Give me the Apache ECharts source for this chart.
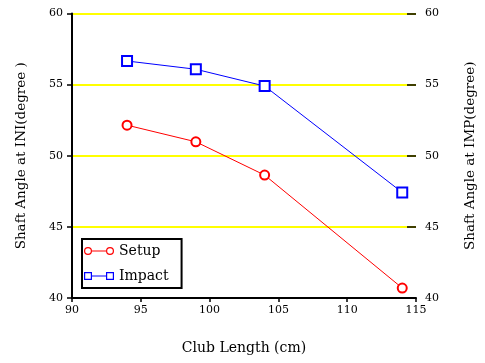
<!DOCTYPE html>
<html><head><meta charset="utf-8">
<script src="https://cdn.jsdelivr.net/npm/echarts@6/dist/echarts.min.js"></script>
<style>html,body{margin:0;padding:0;background:#fff}#c{width:485px;height:363px}</style>
</head><body><div id="c"></div>
<script>
const clubLength = [94, 99, 104, 114];
const setupValues = [52.15, 50.98, 48.64, 40.7];
const impactValues = [56.66, 56.08, 54.9, 47.42];
const xTicks = [90, 95, 100, 105, 110, 115];
const yTicks = [40, 45, 50, 55, 60];

const F = 'DejaVu Serif';
const ringPath = 'path://M0,5A4,4 0 1,1 8,5A4,4 0 1,1 0,5ZM1.2,5A2.8,2.8 0 1,0 6.8,5A2.8,2.8 0 1,0 1.2,5ZM22,5A4,4 0 1,1 30,5A4,4 0 1,1 22,5ZM23.2,5A2.8,2.8 0 1,0 28.8,5A2.8,2.8 0 1,0 23.2,5ZM8,4.5L22,4.5L22,5.5L8,5.5Z';
const sqPath = 'path://M0,1L8,1L8,9L0,9ZM1.2,2.2L1.2,7.8L6.8,7.8L6.8,2.2ZM22,1L30,1L30,9L22,9ZM23.2,2.2L23.2,7.8L28.8,7.8L28.8,2.2ZM8,4.5L22,4.5L22,5.5L8,5.5Z';

const chart = echarts.init(document.getElementById('c'));
chart.setOption({
  animation: false,
  backgroundColor: '#fff',
  textStyle: { fontFamily: F },
  grid: { left: 72, right: 66, top: 13.5, bottom: 65 },
  xAxis: {
    type: 'value', min: xTicks[0], max: xTicks[xTicks.length-1], interval: 5,
    name: 'Club Length (cm)', nameLocation: 'middle', nameGap: 43,
    nameTextStyle: { fontFamily: F, fontSize: 14, color: '#000' },
    axisLine: { lineStyle: { color: '#000', width: 2 } },
    axisTick: { inside: false, length: 4, lineStyle: { color: '#000', width: 1.5 } },
    axisLabel: { fontFamily: F, fontSize: 11, color: '#000', margin: 7 },
    splitLine: { show: false }
  },
  yAxis: [{
    type: 'value', min: yTicks[0], max: yTicks[yTicks.length-1], interval: 5, position: 'left',
    name: 'Shaft Angle at INI(degree )', nameLocation: 'middle', nameGap: 44, nameRotate: 90,
    nameTextStyle: { fontFamily: F, fontSize: 13.5, color: '#000' },
    axisLine: { show: true, lineStyle: { color: '#000', width: 2 } },
    axisTick: { show: true, inside: false, length: 5, lineStyle: { color: '#000', width: 1.5 } },
    axisLabel: { fontFamily: F, fontSize: 11, color: '#000', margin: 9 },
    splitLine: { show: true, lineStyle: { color: '#ffff00', width: 2 } }
  }, {
    type: 'value', min: yTicks[0], max: yTicks[yTicks.length-1], interval: 5, position: 'right',
    name: 'Shaft Angle at IMP(degree)', nameLocation: 'middle', nameGap: 47, nameRotate: 90,
    nameTextStyle: { fontFamily: F, fontSize: 13.5, color: '#000' },
    axisLine: { show: false },
    axisTick: { show: true, inside: true, length: 9, lineStyle: { color: '#000', width: 1.5 } },
    axisLabel: { fontFamily: F, fontSize: 11, color: '#000', margin: 9 },
    splitLine: { show: false }
  }],
  legend: {
    orient: 'vertical', left: 82, top: 239,
    backgroundColor: '#fff', borderColor: '#000', borderWidth: 2,
    padding: [5, 13, 5, 2], itemGap: 11, itemWidth: 30, itemHeight: 10,
    textStyle: { fontFamily: F, fontSize: 14, color: '#000' },
    data: [
      { name: 'Setup', icon: ringPath, itemStyle: { color: '#ff0000', borderWidth: 0 } },
      { name: 'Impact', icon: sqPath, itemStyle: { color: '#0000ff', borderWidth: 0 } }
    ]
  },
  series: [{
    name: 'Setup', type: 'line', yAxisIndex: 0,
    data: clubLength.map((x, i) => [x, setupValues[i]]),
    symbol: 'emptyCircle', symbolSize: 9,
    lineStyle: { color: '#ff0000', width: 1 },
    itemStyle: { color: '#ff0000', borderWidth: 1 }
  }, {
    name: 'Impact', type: 'line', yAxisIndex: 0,
    data: clubLength.map((x, i) => [x, impactValues[i]]),
    symbol: 'emptyRect', symbolSize: 10,
    lineStyle: { color: '#0000ff', width: 1 },
    itemStyle: { color: '#0000ff', borderWidth: 1.2 }
  }]
});
</script></body></html>
